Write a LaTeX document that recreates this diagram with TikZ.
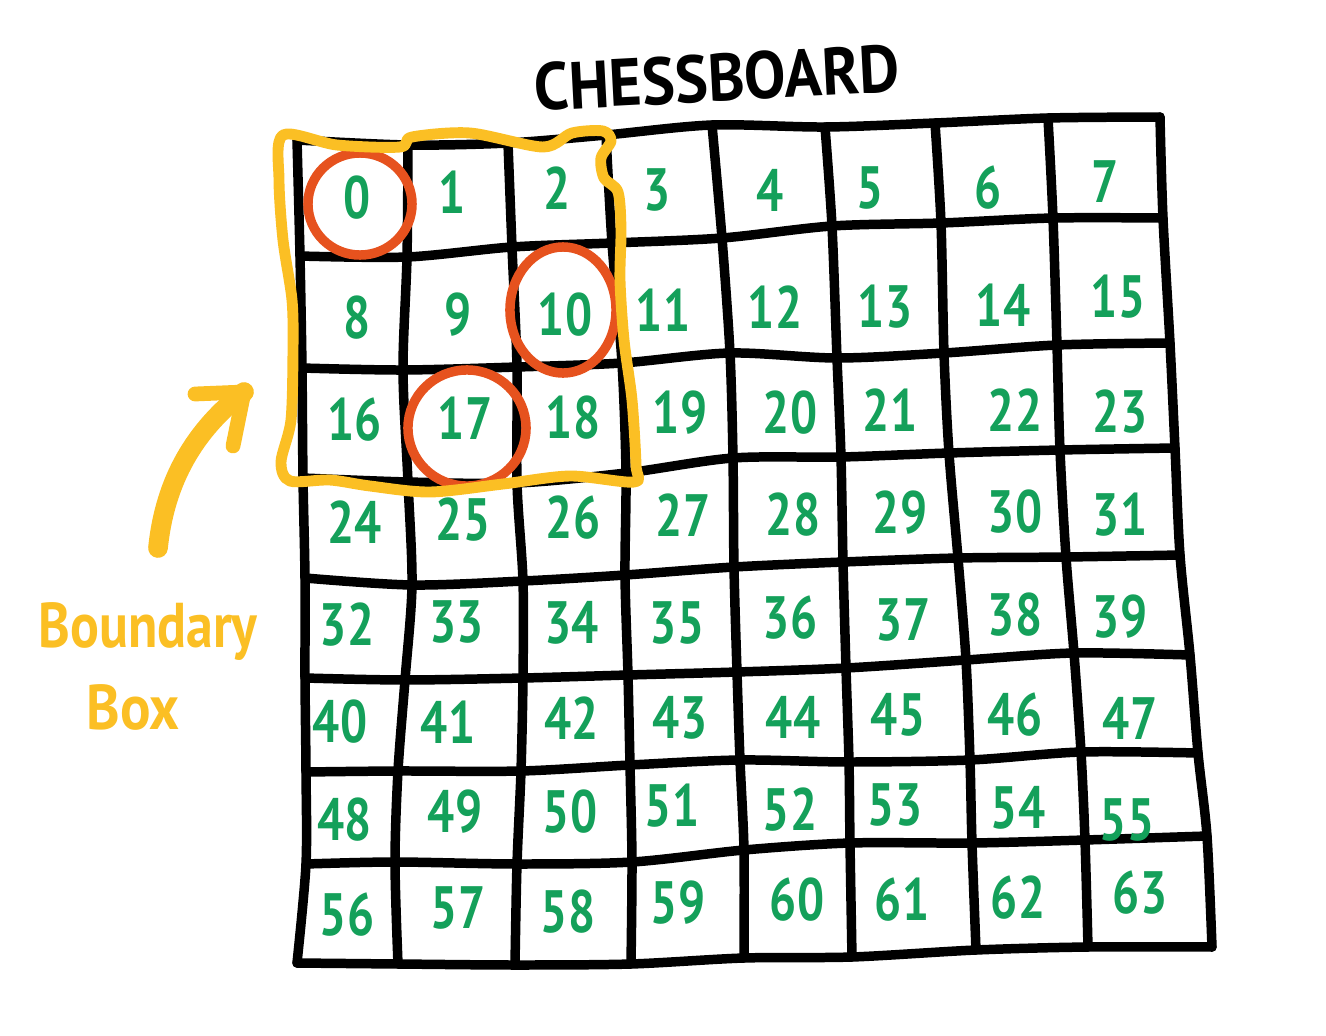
\documentclass[tikz,border=0pt]{standalone}
\usepackage{fontspec}
\setmainfont{PT Sans}
\definecolor{numgreen}{RGB}{20,160,90}
\definecolor{ringorange}{RGB}{230,82,30}
\definecolor{boxyellow}{RGB}{251,191,36}
\begin{document}
\begin{tikzpicture}[x=0.01cm,y=-0.01cm,
  gridline/.style={line width=2.7pt,line cap=round,line join=round,black},
  num/.style={text=numgreen,font=\fontsize{17}{20}\selectfont\bfseries,inner sep=0pt,xscale=0.8},
  ring/.style={draw=ringorange,line width=2.7pt},
  bbox/.style={draw=boxyellow,line width=3.1pt,line cap=round,line join=round},
  yellowstroke/.style={draw=boxyellow,line cap=round,line join=round},
  yellowtext/.style={text=boxyellow,font=\fontsize{18}{20}\selectfont\bfseries,inner sep=0pt},
  titletext/.style={text=black,font=\fontsize{19}{22}\selectfont\bfseries,inner sep=0pt}
]
\useasboundingbox (0,0) rectangle (1326,1036);

% grid intersection points
\foreach \c/\x/\y in {0/297/140,1/408/145,2/508/143,3/606/135,4/712/125,5/825/127,6/935/123,7/1048/118,8/1160/117}
  \coordinate (g-\c-0) at (\x,\y);
\foreach \c/\x/\y in {0/300/256,1/407/257,2/512/247,3/612/243,4/722/238,5/832/226,6/941/223,7/1053/218,8/1163/218}
  \coordinate (g-\c-1) at (\x,\y);
\foreach \c/\x/\y in {0/302/368,1/403/370,2/517/367,3/622/363,4/730/353,5/837/358,6/944/353,7/1057/345,8/1170/343}
  \coordinate (g-\c-2) at (\x,\y);
\foreach \c/\x/\y in {0/303/478,1/408/482,2/517/483,3/626/473,4/733/458,5/841/457,6/949/453,7/1060/450,8/1175/448}
  \coordinate (g-\c-3) at (\x,\y);
\foreach \c/\x/\y in {0/305/578,1/412/585,2/523/581,3/625/575,4/734/567,5/843/562,6/958/558,7/1066/557,8/1180/555}
  \coordinate (g-\c-4) at (\x,\y);
\foreach \c/\x/\y in {0/305/678,1/405/680,2/523/678,3/628/675,4/737/672,5/846/668,6/966/660,7/1074/653,8/1190/655}
  \coordinate (g-\c-5) at (\x,\y);
\foreach \c/\x/\y in {0/306/772,1/398/771,2/521/771,3/630/765,4/740/760,5/849/762,6/970/760,7/1081/752,8/1198/753}
  \coordinate (g-\c-6) at (\x,\y);
\foreach \c/\x/\y in {0/306/864,1/395/862,2/517/864,3/632/862,4/744/850,5/850/843,6/972/843,7/1085/840,8/1207/836}
  \coordinate (g-\c-7) at (\x,\y);
\foreach \c/\x/\y in {0/297/963,1/398/964,2/515/965,3/631/964,4/744/958,5/852/957,6/976/950,7/1088/947,8/1212/947}
  \coordinate (g-\c-8) at (\x,\y);

% grid lines
\foreach \r in {0,...,8}
  \draw[gridline] plot[smooth,tension=0.5] coordinates {(g-0-\r) (g-1-\r) (g-2-\r) (g-3-\r) (g-4-\r) (g-5-\r) (g-6-\r) (g-7-\r) (g-8-\r)};
\foreach \c in {0,...,8}
  \draw[gridline] plot[smooth,tension=0.5] coordinates {(g-\c-0) (g-\c-1) (g-\c-2) (g-\c-3) (g-\c-4) (g-\c-5) (g-\c-6) (g-\c-7) (g-\c-8)};

% numbers
\foreach \i/\x/\y in {0/357/198,1/452/192,2/557/188,3/657/190,4/770/190,5/870/188,6/988/188,7/1105/182,
  8/357/318,9/458/315,10/565/315,11/663/310,12/775/307,13/885/307,14/1003/305,15/1118/297,
  16/355/420,17/465/418,18/573/418,19/680/413,20/790/413,21/890/410,22/1015/410,23/1120/412,
  24/355/522,25/463/520,26/573/518,27/683/515,28/793/515,29/900/513,30/1015/512,31/1120/515,
  32/347/625,33/457/622,34/572/623,35/677/623,36/790/618,37/903/620,38/1015/615,39/1120/617,
  40/340/722,41/448/722,42/572/718,43/680/718,44/793/717,45/898/715,46/1015/715,47/1130/718,
  48/345/820,49/455/812,50/570/812,51/672/806,52/790/810,53/895/805,54/1018/808,55/1127/820,
  56/347/915,57/458/908,58/568/912,59/678/903,60/797/900,61/902/900,62/1018/898,63/1140/893}
  \node[num] (n\i) at (\x,\y) {\i};

% orange rings
\draw[ring] (360,204) ellipse [x radius=0.52cm, y radius=0.51cm];
\draw[ring] (563,310) ellipse [x radius=0.53cm, y radius=0.63cm];
\draw[ring] (467,428) ellipse [x radius=0.59cm, y radius=0.58cm];

% yellow boundary box
\draw[bbox] plot[smooth cycle,tension=0.5] coordinates {
  (283,135) (337,145) (400,147) (412,137) (470,133) (543,147) (572,133) (603,131) (611,141)
  (601,158) (604,178) (618,192) (621,230) (620,280) (624,340) (632,400) (636,465) (634,482)
  (570,476) (503,484) (430,492) (370,486) (330,480) (290,481) (281,462) (291,420) (293,350)
  (292,300) (283,240) (279,180)};

% yellow arrow
\coordinate (arrowtail) at (158,548);
\coordinate (arrowtip) at (244,392);
\coordinate (barbleft) at (195,394);
\coordinate (barbdown) at (233,446);
\draw[yellowstroke,line width=5.6pt] (arrowtail) .. controls (165,480) and (195,430) .. (arrowtip);
\draw[yellowstroke,line width=4.2pt] (barbleft) -- (arrowtip) -- (barbdown);

% labels
\node[yellowtext,xscale=0.85] (bnd) at (148,632) {Boundary};
\node[yellowtext,xscale=0.9] (bx) at (133,707) {Box};
\node[titletext,rotate=3,xscale=0.93] (title) at (717,78) {CHESSBOARD};
\end{tikzpicture}
\end{document}
